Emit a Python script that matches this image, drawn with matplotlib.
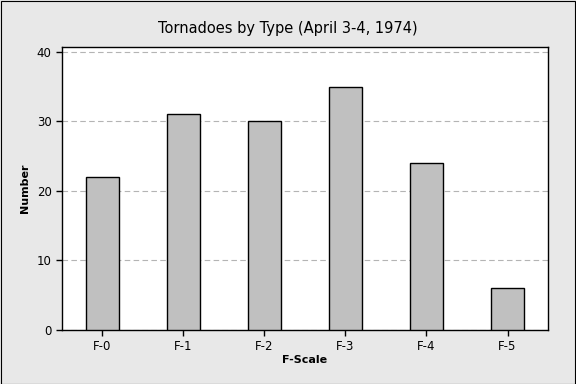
import matplotlib
matplotlib.use("Agg")
import matplotlib.pyplot as plt
from matplotlib.patches import Rectangle

categories = ["F-0", "F-1", "F-2", "F-3", "F-4", "F-5"]
counts = [22, 31, 30, 35, 24, 6]
yticks = [0, 10, 20, 30, 40]

plt.rcParams['font.family'] = ['DejaVu Sans']

fig = plt.figure(figsize=(5.76, 3.84), dpi=100)
fig.patch.set_facecolor('#e8e8e8')
# outer border
fig.add_artist(Rectangle((0.001, 0.001), 0.997, 0.997, transform=fig.transFigure,
                         fill=False, edgecolor='black', linewidth=0.8))

ax = fig.add_axes([0.1076, 0.1406, 0.8438, 0.737])
ax.set_facecolor('white')
x = list(range(len(categories)))
ax.bar(x, counts, width=0.41, color='#c0c0c0', edgecolor='black', linewidth=1, zorder=3)

ax.set_xlim(-0.5, 5.5)
ax.set_ylim(0, 40.7)
ax.set_yticks(yticks)
ax.set_xticks(x)
ax.set_xticklabels(categories)
ax.yaxis.grid(True, linestyle=(0, (5, 3)), color='#b4b4b4', linewidth=0.8, zorder=0)
ax.tick_params(direction='out', length=4, width=1, labelsize=8.5, colors='black')
for s in ax.spines.values():
    s.set_linewidth(1)
    s.set_color('black')

ax.set_xlabel('F-Scale', fontsize=8, fontweight='bold', labelpad=1)
ax.set_ylabel('Number', fontsize=8, fontweight='bold', labelpad=5)
fig.text(0.5, 0.927, 'Tornadoes by Type (April 3-4, 1974)', ha='center', va='center', fontsize=10.5)

fig.savefig('out.png', dpi=100, facecolor=fig.get_facecolor())
